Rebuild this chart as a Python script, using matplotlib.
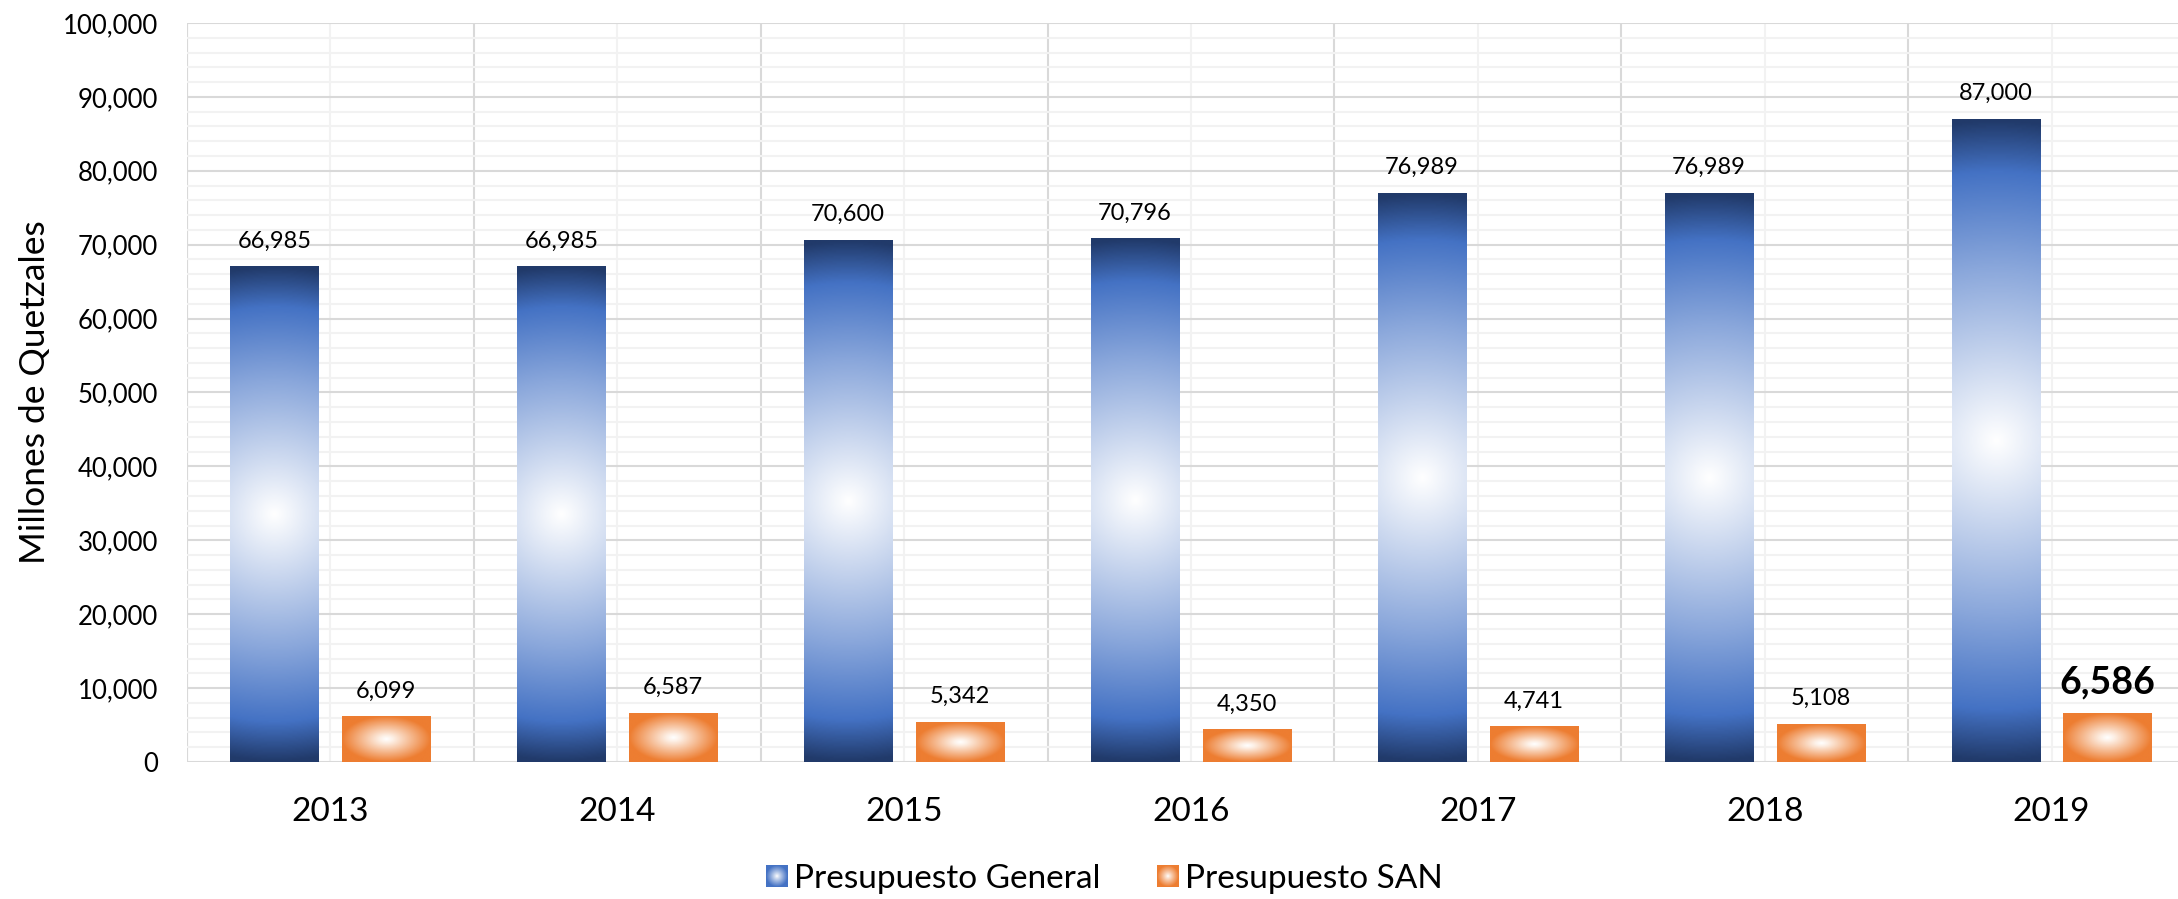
import numpy as np
import matplotlib.pyplot as plt
from matplotlib.colors import LinearSegmentedColormap
from matplotlib.legend_handler import HandlerBase
from matplotlib.image import BboxImage
from matplotlib.patches import Rectangle
from matplotlib.ticker import MultipleLocator, FuncFormatter
from matplotlib.transforms import Bbox, TransformedBbox

plt.rcParams['font.family'] = ['Lato', 'DejaVu Sans']

years = ['2013', '2014', '2015', '2016', '2017', '2018', '2019']
general = [66985, 66985, 70600, 70796, 76989, 76989, 87000]
san = [6099, 6587, 5342, 4350, 4741, 5108, 6586]

blue_cm = LinearSegmentedColormap.from_list(
    'blue', [(0, '#ffffff'), (0.54, '#8aa7db'), (0.84, '#4472c4'), (1.0, '#213a6a')])
orange_cm = LinearSegmentedColormap.from_list(
    'orange', [(0, '#ffffff'), (0.15, '#fdf0e6'), (1.0, '#ed7d31')])


def radial(h, w, sx, sy):
    # distance from the center, sx/sy = half sizes used for normalising
    yy, xx = np.mgrid[0:h, 0:w]
    dx = (xx - (w - 1) / 2) / ((w - 1) / 2) * sx
    dy = (yy - (h - 1) / 2) / ((h - 1) / 2) * sy
    return np.clip(np.sqrt(dx ** 2 + dy ** 2), 0, 1)


fig = plt.figure(figsize=(21.78, 8.99), dpi=100)
ax = fig.add_axes([187 / 2178, 1 - 762 / 899, (2195 - 187) / 2178, (762 - 23) / 899])
ax.set_xlim(-0.5, len(years) - 0.5)
ax.set_ylim(0, 100000)

x = np.arange(len(years))
w = 0.307
off = 0.195

b1 = ax.bar(x - off, general, w, facecolor='none', edgecolor='none', zorder=3)
b2 = ax.bar(x + off, san, w, facecolor='none', edgecolor='none', zorder=3)

# gradient fills on top of the bar rectangles
for p in b1.patches:
    x0, y0, bw, bh = p.get_x(), p.get_y(), p.get_width(), p.get_height()
    (px0, py0), (px1, py1) = ax.transData.transform([(x0, y0), (x0 + bw, y0 + bh)])
    wpx, hpx = px1 - px0, py1 - py0
    t = radial(300, 60, wpx / hpx, 1.0)
    ax.imshow(blue_cm(t), extent=[x0, x0 + bw, y0, y0 + bh], aspect='auto',
              interpolation='bilinear', zorder=3)
for p in b2.patches:
    x0, y0, bw, bh = p.get_x(), p.get_y(), p.get_width(), p.get_height()
    t = radial(80, 120, 1.0, 1.0)
    ax.imshow(orange_cm(t), extent=[x0, x0 + bw, y0, y0 + bh], aspect='auto',
              interpolation='bilinear', zorder=3)

ax.set_xlim(-0.5, len(years) - 0.5)
ax.set_ylim(0, 100000)

for xi, v in zip(x - off, general):
    ax.annotate(f'{v:,}', (xi, v), xytext=(0, 11), textcoords='offset points',
                ha='center', va='bottom', fontsize=17, color='black')
for i, (xi, v) in enumerate(zip(x + off, san)):
    if i == len(san) - 1:
        ax.annotate(f'{v:,}', (xi, v), xytext=(0, 10), textcoords='offset points',
                    ha='center', va='bottom', fontsize=27, fontweight='bold', color='black')
    else:
        ax.annotate(f'{v:,}', (xi, v), xytext=(0, 11), textcoords='offset points',
                    ha='center', va='bottom', fontsize=17, color='black')

# grid
ax.set_xticks(x)
ax.set_xticklabels(years)
ax.xaxis.set_minor_locator(MultipleLocator(1, offset=0.5))
ax.yaxis.set_major_locator(MultipleLocator(10000))
ax.yaxis.set_minor_locator(MultipleLocator(2000))
ax.yaxis.set_major_formatter(FuncFormatter(lambda v, _: f'{int(v):,}'))
ax.grid(which='major', axis='y', color='#d9d9d9', lw=1.5)
ax.grid(which='minor', axis='y', color='#f2f2f2', lw=1.5)
ax.grid(which='minor', axis='x', color='#d9d9d9', lw=1.5)
ax.grid(which='major', axis='x', color='#f2f2f2', lw=1.5)
ax.set_axisbelow(True)
for s in ax.spines.values():
    s.set_visible(False)
ax.axvline(-0.5, color='#d9d9d9', lw=1.5, zorder=0.5)
ax.tick_params(axis='both', which='both', length=0)
ax.tick_params(axis='y', labelsize=18.5, pad=21)
ax.tick_params(axis='x', labelsize=24, pad=25)

ax.set_ylabel('Millones de Quetzales', fontsize=25.5)
ax.yaxis.set_label_coords((51 - 187) / 2008, 0.5)


class GradHandler(HandlerBase):
    def __init__(self, img):
        super().__init__()
        self.img = img

    def create_artists(self, legend, orig_handle, xdescent, ydescent, width, height,
                       fontsize, trans):
        bb = TransformedBbox(Bbox.from_bounds(-xdescent, -ydescent, width, height), trans)
        im = BboxImage(bb, interpolation='bilinear')
        im.set_data(self.img)
        return [im]


leg_blue = LinearSegmentedColormap.from_list('lb', ['#ffffff', '#4472c4'])
leg_orange = LinearSegmentedColormap.from_list('lo', ['#ffffff', '#ed7d31'])
h1 = Rectangle((0, 0), 1, 1)
h2 = Rectangle((0, 0), 1, 1)
tl = radial(40, 40, 1.0, 1.0) ** 0.9
fig.legend([h1, h2], ['Presupuesto General', 'Presupuesto SAN'],
           handler_map={h1: GradHandler(leg_blue(tl)), h2: GradHandler(leg_orange(tl))},
           loc='center', bbox_to_anchor=(1104.5 / 2178, 1 - 879 / 899), ncol=2,
           frameon=False, fontsize=24, handlelength=0.66, handleheight=0.6,
           handletextpad=0.18, columnspacing=1.71, borderpad=0)

fig.savefig('out.png', dpi=100)
